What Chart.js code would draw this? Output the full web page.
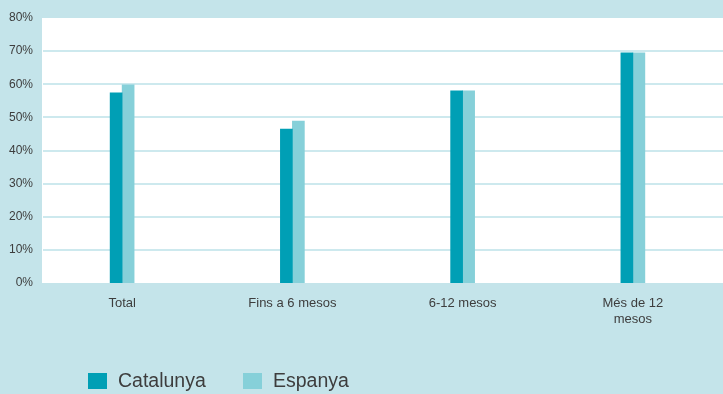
<!DOCTYPE html>
<html>
<head>
<meta charset="utf-8">
<script src="https://cdn.jsdelivr.net/npm/chart.js@4/dist/chart.umd.min.js"></script>
<style>
  html, body { margin: 0; padding: 0; background: #c4e4ea; }
  #wrap { width: 723px; height: 394px; position: relative; }
</style>
</head>
<body>
<div id="wrap"><canvas id="c" width="723" height="394"></canvas></div>
<script>
const categories = ['Total', 'Fins a 6 mesos', '6-12 mesos', ['Més de 12', 'mesos']];
const seriesNames = ['Catalunya', 'Espanya'];
const catalunya = [57.4, 46.5, 58.0, 69.5];
const espanya = [59.8, 48.9, 58.0, 69.5];
const yTickValues = [0, 10, 20, 30, 40, 50, 60, 70, 80];

const BG = '#c4e4ea';
const GRID = '#cde9ee';
const TEXT = '#3d3d3d';
const FONT = "'Liberation Sans', Arial, Helvetica, sans-serif";

const backdrop = {
  id: 'backdrop',
  beforeDraw(chart) {
    const { ctx, chartArea: a, scales } = chart;
    ctx.save();
    ctx.fillStyle = BG;
    ctx.fillRect(0, 0, chart.width, chart.height);
    ctx.fillStyle = '#ffffff';
    ctx.fillRect(a.left + 5, a.top, chart.width - (a.left + 5), a.bottom - a.top);
    ctx.strokeStyle = GRID;
    ctx.lineWidth = 2;
    const y = scales.y;
    y.ticks.forEach(t => {
      if (t.value === y.min || t.value === y.max) return;
      const py = Math.round(y.getPixelForValue(t.value));
      ctx.beginPath();
      ctx.moveTo(a.left + 6, py);
      ctx.lineTo(chart.width, py);
      ctx.stroke();
    });
    ctx.restore();
  }
};

const legendDraw = {
  id: 'legendDraw',
  afterDraw(chart) {
    const { ctx } = chart;
    ctx.save();
    ctx.font = '19.5px ' + FONT;
    ctx.textBaseline = 'middle';
    const starts = [88, 243];
    chart.data.datasets.forEach((ds, i) => {
      const x = starts[i];
      ctx.fillStyle = ds.backgroundColor;
      ctx.fillRect(x, 373, 19, 16);
      ctx.fillStyle = TEXT;
      ctx.fillText(ds.label, x + 30, 382);
    });
    ctx.restore();
  }
};

new Chart(document.getElementById('c'), {
  type: 'bar',
  data: {
    labels: categories,
    datasets: [
      { label: seriesNames[0], data: catalunya, backgroundColor: '#009fb5', barThickness: 12 },
      { label: seriesNames[1], data: espanya, backgroundColor: '#86d0d9', barThickness: 12 }
    ]
  },
  options: {
    responsive: false,
    devicePixelRatio: 1,
    animation: false,
    layout: { padding: { top: 18, right: 5, left: 0, bottom: 0 } },
    plugins: {
      legend: { display: false },
      tooltip: { enabled: false }
    },
    scales: {
      x: {
        grid: { display: false, drawTicks: false },
        border: { display: false },
        ticks: {
          color: TEXT,
          font: { family: FONT, size: 13, lineHeight: 1.25 },
          padding: 12,
          maxRotation: 0,
          autoSkip: false
        },
        afterFit(s) { s.height = 111; }
      },
      y: {
        min: 0,
        max: 80,
        grid: { display: false, drawTicks: false },
        border: { display: false },
        afterBuildTicks(s) { s.ticks = yTickValues.map(v => ({ value: v })); },
        ticks: {
          color: TEXT,
          font: { family: FONT, size: 12 },
          padding: 4,
          callback: v => v + '%'
        },
        afterFit(s) { s.width = 37; }
      }
    }
  },
  plugins: [backdrop, legendDraw]
});
</script>
</body>
</html>
